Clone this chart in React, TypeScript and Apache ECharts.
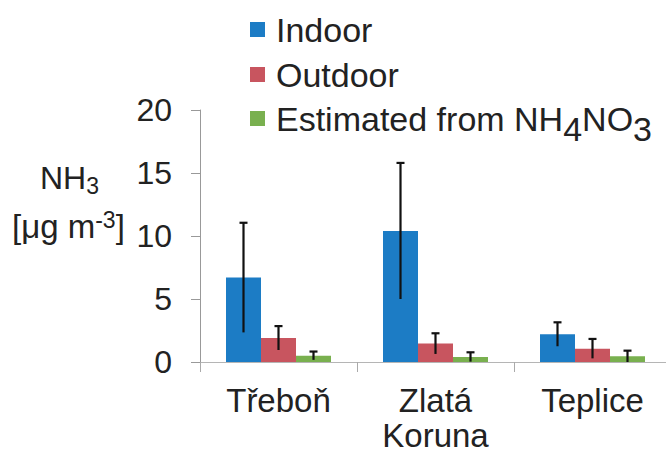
import React, { useEffect, useRef } from "react";
import * as echarts from "echarts";

const categories = ["Třeboň", "Zlatá\nKoruna", "Teplice"];
const seriesNames = ["Indoor", "Outdoor", "Estimated from NH4NO3"];
const indoor = [6.7, 10.4, 2.2];
const indoorErr = [4.35, 5.4, 0.95];
const outdoor = [1.9, 1.46, 1.06];
const outdoorErr = [0.95, 0.82, 0.77];
const estimated = [0.5, 0.4, 0.45];
const estimatedErr = [0.33, 0.37, 0.45];
const yTicks = [0, 5, 10, 15, 20];

const colors = ["#1c7cc5", "#c8555f", "#79b04f"];
const FONT = "Liberation Sans, Arial, sans-serif";
const BAR_W = 35;
const LEGEND_TOPS = [12.5, 57.5, 91.5];

export default function App() {
  const ref = useRef<HTMLDivElement>(null);
  useEffect(() => {
    if (!ref.current) return;
    const chart = echarts.init(ref.current, undefined, { renderer: "svg" });
    const values = [indoor, outdoor, estimated];
    const errs = [indoorErr, outdoorErr, estimatedErr];

    const barSeries = values.map((v, i) => ({
      name: seriesNames[i],
      type: "bar",
      data: v,
      barWidth: BAR_W,
      barGap: "0%",
      itemStyle: { color: colors[i] },
      z: 2,
    }));

    const errSeries = values.map((v, i) => ({
      name: seriesNames[i] + " error",
      type: "custom",
      z: 5,
      silent: true,
      data: v.map((m, k) => [k, m - errs[i][k], m + errs[i][k]]),
      encode: { x: 0, y: [1, 2] },
      renderItem: (params: any, api: any) => {
        const c = api.value(0);
        const lo = api.coord([c, Math.max(0, api.value(1))]);
        const hi = api.coord([c, api.value(2)]);
        const x = lo[0] + (i - 1) * BAR_W;
        const style = { stroke: "#111", lineWidth: 2.2 };
        return {
          type: "group",
          children: [
            { type: "line", shape: { x1: x, y1: lo[1], x2: x, y2: hi[1] }, style },
            { type: "line", shape: { x1: x - 4, y1: hi[1], x2: x + 4, y2: hi[1] }, style },
          ],
        };
      },
    }));

    const legends = seriesNames.map((n, i) => ({
      orient: "vertical",
      left: 250,
      top: LEGEND_TOPS[i],
      padding: 0,
      itemWidth: 15,
      itemHeight: 15,
      icon: "rect",
      data: [n],
      formatter: (s: string) =>
        s === "Estimated from NH4NO3" ? "Estimated from NH{sub|4}NO{sub|3}" : s,
      textStyle: {
        fontSize: 34,
        color: "#222",
        fontFamily: FONT,
        lineHeight: 34,
        padding: [0, 0, 0, 6],
        rich: {
          sub: { fontSize: 34, lineHeight: 14, padding: [20, 0, 0, 0], color: "#222", fontFamily: FONT },
        },
      },
    }));

    chart.setOption({
      animation: false,
      textStyle: { fontFamily: FONT },
      legend: legends,
      grid: {
        left: 200,
        top: 110,
        width: 471,
        height: 252,
        containLabel: false,
        outerBoundsMode: "none",
      },
      xAxis: {
        type: "category",
        data: categories,
        axisLine: { lineStyle: { color: "#b5b5b5", width: 1.2 } },
        axisTick: { show: true, length: 10, lineStyle: { color: "#aaa" } },
        axisLabel: { fontSize: 33, color: "#222", margin: 21, lineHeight: 35, fontFamily: FONT },
      },
      yAxis: {
        type: "value",
        min: 0,
        max: 20,
        interval: 5,
        splitLine: { show: false },
        axisLine: { show: true, lineStyle: { color: "#999", width: 1 } },
        axisTick: { show: true, length: 9, lineStyle: { color: "#999" } },
        axisLabel: {
          fontSize: 32,
          color: "#222",
          margin: 28,
          fontFamily: FONT,
          formatter: (v: number) => (yTicks.includes(v) ? String(v) : ""),
        },
      },
      graphic: [
        {
          type: "text",
          left: 40,
          top: 162,
          style: {
            text: "NH{sub|3}",
            fontSize: 32,
            fill: "#222",
            fontFamily: FONT,
            rich: { sub: { fontSize: 23, padding: [16, 0, 0, 0], fill: "#222", fontFamily: FONT } },
          },
        },
        {
          type: "text",
          left: 12,
          top: 208,
          style: {
            text: "[μg m{sup|-3}]",
            fontSize: 33,
            fill: "#222",
            fontFamily: FONT,
            rich: { sup: { fontSize: 23, padding: [0, 0, 14, 0], fill: "#222", fontFamily: FONT } },
          },
        },
      ],
      series: [...barSeries, ...errSeries],
    });
    return () => chart.dispose();
  }, []);
  return (
    <div
      ref={ref}
      style={{ position: "absolute", left: 0, top: 0, width: 666, height: 455, background: "#fff" }}
    />
  );
}
